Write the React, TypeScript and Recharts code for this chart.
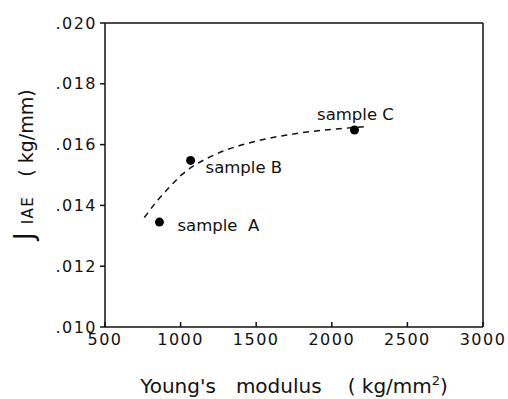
import React from 'react';
import { ComposedChart, Scatter, Line, XAxis, YAxis, ReferenceLine } from 'recharts';

const sampleNames = ['sample  A', 'sample B', 'sample C'];
const sampleModulus = [860, 1066, 2150];
const sampleJ = [0.01345, 0.01548, 0.01648];

const curveModulus = [760, 850, 930, 1010, 1080, 1180, 1300, 1450, 1650, 1850, 2050, 2240];
const curveJ = [0.0136, 0.01418, 0.01462, 0.01502, 0.01528, 0.01556, 0.01582, 0.01605, 0.01627, 0.01642, 0.01652, 0.0166];

const xTicks = [500, 1000, 1500, 2000, 2500, 3000];
const yTicks = [0.01, 0.012, 0.014, 0.016, 0.018, 0.02];

const labelPlacement: Record<string, { dx: number; dy: number; anchor: 'start' | 'middle' }> = {
  'sample  A': { dx: 18, dy: 3, anchor: 'start' },
  'sample B': { dx: 15, dy: 7, anchor: 'start' },
  'sample C': { dx: 1, dy: -16, anchor: 'middle' },
};

const samples = sampleNames.map((name, i) => ({ name, x: sampleModulus[i], y: sampleJ[i] }));
const curve = curveModulus.map((x, i) => ({ x, y: curveJ[i] }));

const FONT = '"DejaVu Sans", sans-serif';

const SampleShape = (props: any) => {
  const { cx, cy, payload } = props;
  const p = labelPlacement[payload.name];
  return (
    <g>
      <circle cx={cx} cy={cy} r={4.5} fill="#000" />
      <text
        x={cx + p.dx}
        y={cy + p.dy}
        dy="0.35em"
        textAnchor={p.anchor}
        fontSize={16.5}
        fontFamily={FONT}
        fill="#111"
        style={{ whiteSpace: 'pre' }}
      >
        {payload.name}
      </text>
    </g>
  );
};

const YLabel = (props: any) => {
  const vb = props.viewBox || {};
  const start = vb.y + vb.height / 2 + 65;
  return (
    <text
      transform={`translate(33, ${start}) rotate(-90)`}
      textAnchor="start"
      fontFamily={FONT}
      fontSize={19}
      fill="#111"
      style={{ whiteSpace: 'pre' }}
    >
      <tspan fontSize={26}>J</tspan>
      <tspan fontSize={15} dx={8} letterSpacing={1.5}>IAE</tspan>
      <tspan dx={19}>( kg/mm)</tspan>
    </text>
  );
};

const XLabel = (props: any) => {
  const vb = props.viewBox || {};
  const cx = vb.x + vb.width / 2;
  return (
    <text
      x={cx}
      y={393}
      textAnchor="middle"
      fontFamily={FONT}
      fontSize={20}
      fill="#111"
      style={{ whiteSpace: 'pre' }}
    >
      <tspan>{"Young's"}</tspan>
      <tspan dx={20}>modulus</tspan>
      <tspan dx={26}>{'( kg/mm'}</tspan>
      <tspan fontSize={13} dy={-8}>2</tspan>
      <tspan dy={8}>)</tspan>
    </text>
  );
};

const tickStyle = { fontSize: 16, fontFamily: FONT, fill: '#111', letterSpacing: 1.5 };

export default function App() {
  return (
    <div style={{ position: 'absolute', left: 0, top: 0, background: '#fff' }}>
      <ComposedChart width={508} height={399} margin={{ top: 23, right: 25, bottom: 0, left: 0 }}>
        <XAxis
          type="number"
          dataKey="x"
          domain={[500, 3000]}
          ticks={xTicks}
          allowDataOverflow
          height={72}
          stroke="#111"
          strokeWidth={1.5}
          tickSize={-5}
          tickMargin={12}
          tick={tickStyle}
          label={{ content: XLabel }}
        />
        <YAxis
          type="number"
          dataKey="y"
          domain={[0.01, 0.02]}
          ticks={yTicks}
          allowDataOverflow
          width={105}
          stroke="#111"
          strokeWidth={1.5}
          tickSize={5}
          tickMargin={3}
          tick={tickStyle}
          tickFormatter={(v: number) => v.toFixed(3).replace(/^0/, '')}
          label={{ content: YLabel }}
        />
        <ReferenceLine y={0.02} stroke="#111" strokeWidth={1.5} />
        <ReferenceLine x={3000} stroke="#111" strokeWidth={1.5} />
        <Line
          data={curve}
          dataKey="y"
          type="monotone"
          stroke="#111"
          strokeWidth={1.5}
          strokeDasharray="6 5"
          dot={false}
          activeDot={false}
          isAnimationActive={false}
        />
        <Scatter data={samples} dataKey="y" shape={SampleShape} isAnimationActive={false} />
      </ComposedChart>
    </div>
  );
}
